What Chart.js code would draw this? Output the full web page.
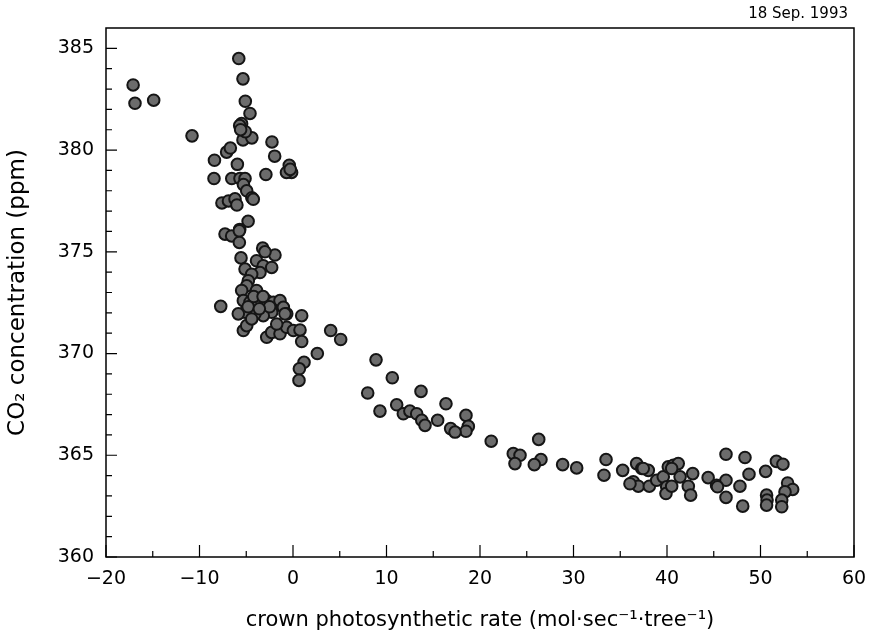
<!DOCTYPE html>
<html lang="en">
<head>
    <meta charset="UTF-8">
    <title>CO2 vs crown photosynthetic rate</title>
    <script src="https://cdn.jsdelivr.net/npm/chart.js@4.4.1/dist/chart.umd.min.js"></script>
    <style>
        html, body { margin: 0; padding: 0; background: #fff; }
        #wrap { width: 871px; height: 633px; }
    </style>
</head>
<body>
    <div id="wrap"><canvas id="co2Chart" width="871" height="633"></canvas></div>

    <script>
        // crown photosynthetic rate (mol/sec/tree)
        const rateX = [
            -17.1, -16.9, -14.9, -10.8,
            -5.8, -5.35, -5.1, -4.6, -5.5, -5.7, -4.95, -5.35, -4.4, -5.1, -5.6,
            -2.25, -1.96, -8.4, -8.45, -5.95, -7.1, -6.7, -2.9, -0.4, -0.15, -0.7, -0.3,
            -6.55, -5.67, -5.13, -5.3, -4.95, -4.4, -4.25,
            -7.6, -6.9, -6.2, -6.0, -4.8, -5.7,
            -7.27, -6.56, -5.74, -5.74, -3.24, -1.93, -3.0,
            -5.56, -3.9, -3.18, -2.28, -3.53, -5.13, -4.42, -4.78, -4.95, -5.49, -3.9,
            -5.31, -4.6, -3.71, -2.81, -2.1, -1.39, -1.03, -0.67, -2.28, -3.18, -4.06, -5.13, -5.85,
            -4.2, -3.2, -2.5, -4.8, -3.6,
            -7.73, 0.93,
            -5.31, -4.95, -4.42,
            -2.81, -2.28, -1.39, -0.67, 0.04, 0.75, -1.74, -0.86,
            0.93, 4.03, 5.1, 2.6, 1.18, 0.68, 0.64,
            8.88, 10.62, 7.99, 9.3, 13.69, 11.09, 11.8, 12.5, 13.23, 13.77, 14.12, 16.36, 15.47,
            18.5, 18.75, 18.5, 16.86, 17.33, 21.2,
            26.28, 23.56, 24.28, 23.74, 26.52, 25.81, 28.84, 30.34,
            33.48, 33.26, 35.26, 36.75, 38.0, 37.3, 36.4, 36.93, 38.11, 38.9, 39.6, 40.14, 40.68,
            39.97, 39.89, 41.4, 41.2, 40.5, 42.75, 42.28, 42.53, 40.5, 46.31, 48.34, 44.4, 45.3,
            46.31, 48.77, 50.55, 51.7, 52.4, 47.8, 46.31, 48.1, 50.65, 50.7, 50.65, 52.9, 53.44,
            52.62, 52.27, 52.27, 36.04, 37.46, 45.4
        ];

        // CO2 concentration (ppm)
        const co2Y = [
            383.2, 382.3, 382.45, 380.7,
            384.5, 383.5, 382.4, 381.8, 381.3, 381.2, 380.7, 380.5, 380.6, 380.9, 381.0,
            380.4, 379.7, 379.5, 378.6, 379.3, 379.9, 380.1, 378.8, 379.25, 378.9, 378.9, 379.05,
            378.6, 378.6, 378.6, 378.3, 378.0, 377.66, 377.58,
            377.4, 377.5, 377.6, 377.3, 376.5, 376.1,
            375.87, 375.78, 376.03, 375.46, 375.18, 374.84, 375.0,
            374.7, 374.56, 374.31, 374.23, 373.98, 374.15, 373.9, 373.58, 373.33, 373.1, 373.1,
            372.6, 372.52, 372.52, 372.6, 372.52, 372.6, 372.27, 371.95, 372.03, 371.86, 371.95, 372.03, 371.95,
            372.8, 372.8, 372.3, 372.3, 372.2,
            372.32, 371.86,
            371.13, 371.37, 371.7,
            370.8, 371.04, 370.97, 371.29, 371.13, 371.16, 371.45, 371.95,
            370.59, 371.13, 370.69, 370.0, 369.57, 369.25, 368.68,
            369.69, 368.81, 368.06, 367.17, 368.14, 367.48, 367.04, 367.17, 367.04, 366.72, 366.47, 367.53, 366.72,
            366.96, 366.42, 366.18, 366.31, 366.14, 365.69,
            365.78, 365.08, 365.0, 364.59, 364.79, 364.54, 364.54, 364.38,
            364.79, 364.02, 364.26, 364.59, 364.26, 364.35, 363.7, 363.48, 363.48, 363.77, 363.94, 364.43, 364.51,
            363.45, 363.12, 363.94, 364.59, 364.35, 364.1, 363.48, 363.04, 363.48, 365.05, 364.89, 363.9, 363.53,
            363.77, 364.07, 364.21, 364.7, 364.56, 363.48, 362.93, 362.5, 363.04, 362.8, 362.55, 363.64, 363.32,
            363.2, 362.8, 362.47, 363.6, 364.35, 363.45
        ];

        const xTicks = [-20, -10, 0, 10, 20, 30, 40, 50, 60];
        const yTicks = [360, 365, 370, 375, 380, 385];
        const dateLabel = '18 Sep. 1993';

        const points = rateX.map((x, i) => ({ x: x, y: co2Y[i] }));
        const fontName = '"DejaVu Sans", "Liberation Sans", sans-serif';

        // frame, inward ticks and the date label
        const framePlugin = {
            id: 'frame',
            afterDraw(chart) {
                const { ctx, chartArea: a, scales } = chart;
                ctx.save();
                ctx.strokeStyle = '#000';
                ctx.lineWidth = 1.5;
                ctx.strokeRect(a.left, a.top, a.right - a.left, a.bottom - a.top);
                ctx.lineWidth = 1.2;
                ctx.beginPath();
                for (let v = -20; v <= 60; v += 5) {
                    const px = scales.x.getPixelForValue(v);
                    const len = v % 10 === 0 ? 12 : 6;
                    ctx.moveTo(px, a.bottom);
                    ctx.lineTo(px, a.bottom - len);
                }
                for (let v = 360; v <= 385; v += 1) {
                    const py = scales.y.getPixelForValue(v);
                    const len = v % 5 === 0 ? 11 : 6;
                    ctx.moveTo(a.left, py);
                    ctx.lineTo(a.left + len, py);
                }
                ctx.stroke();

                ctx.fillStyle = '#000';
                ctx.font = '15px ' + fontName;
                ctx.textAlign = 'right';
                ctx.textBaseline = 'alphabetic';
                ctx.fillText(dateLabel, a.right - 6, a.top - 10);
                ctx.restore();
            }
        };

        new Chart(document.getElementById('co2Chart').getContext('2d'), {
            type: 'scatter',
            data: {
                datasets: [{
                    label: dateLabel,
                    data: points,
                    backgroundColor: '#6c6c6c',
                    borderColor: '#151515',
                    borderWidth: 2,
                    pointRadius: 5.8,
                }]
            },
            options: {
                responsive: false,
                animation: false,
                layout: { padding: { top: 28, right: 17, left: 0, bottom: 0 } },
                plugins: {
                    legend: { display: false },
                    tooltip: { enabled: false }
                },
                scales: {
                    x: {
                        type: 'linear',
                        min: -20,
                        max: 60,
                        afterBuildTicks: (scale) => { scale.ticks = xTicks.map(v => ({ value: v })); },
                        afterFit: (scale) => { scale.height = 76; },
                        grid: { display: false },
                        border: { display: false },
                        ticks: {
                            color: '#000',
                            padding: 3,
                            maxRotation: 0,
                            font: { family: fontName, size: 19 },
                            callback: (v) => (v < 0 ? '\u2212' + Math.abs(v) : String(v))
                        },
                        title: {
                            display: true,
                            text: 'crown photosynthetic rate (mol\u00b7sec\u207b\u00b9\u00b7tree\u207b\u00b9)',
                            color: '#000',
                            font: { family: fontName, size: 21 },
                            padding: { top: 4, bottom: 0 }
                        }
                    },
                    y: {
                        type: 'linear',
                        min: 360,
                        max: 386,
                        afterBuildTicks: (scale) => { scale.ticks = yTicks.map(v => ({ value: v })); },
                        afterFit: (scale) => { scale.width = 106; },
                        grid: { display: false },
                        border: { display: false },
                        ticks: {
                            color: '#000',
                            padding: 4,
                            font: { family: fontName, size: 19 }
                        },
                        title: {
                            display: true,
                            text: 'CO\u2082 concentration (ppm)',
                            color: '#000',
                            font: { family: fontName, size: 23 },
                            padding: { top: 4, bottom: 4 }
                        }
                    }
                }
            },
            plugins: [framePlugin]
        });
    </script>
</body>
</html>
